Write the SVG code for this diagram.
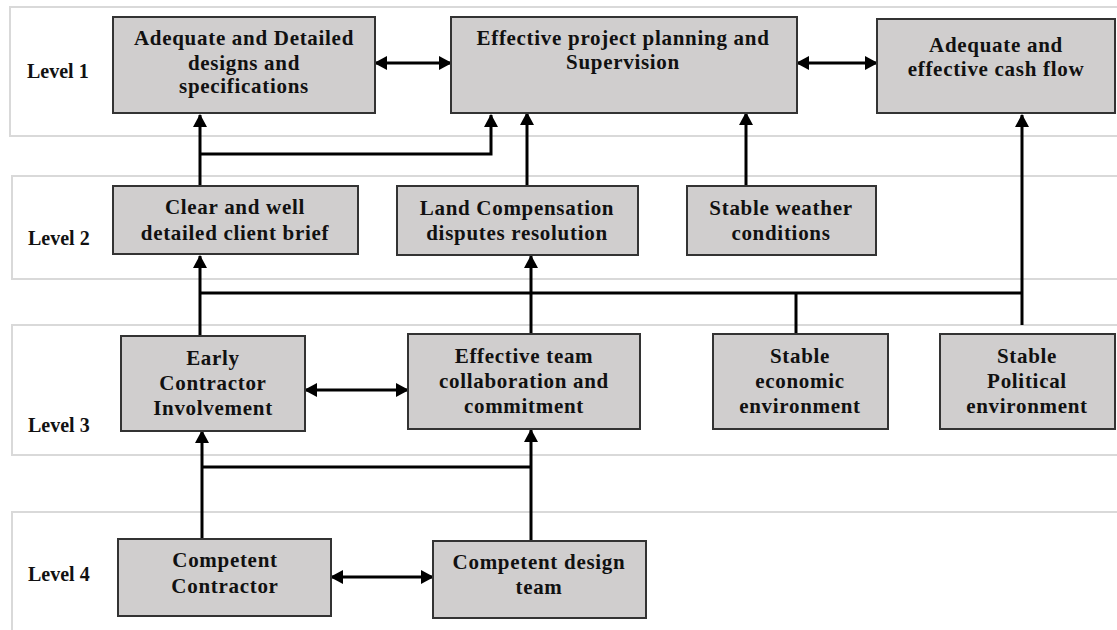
<svg xmlns="http://www.w3.org/2000/svg" width="1117" height="630" viewBox="0 0 1117 630">
<defs>
<style>
.band{fill:none;stroke:#d9d9d9;stroke-width:2}
.box{fill:#d0cece;stroke:#333;stroke-width:2}
.t{font-family:"Liberation Serif","Times New Roman",serif;font-weight:bold;font-size:21px;letter-spacing:0.7px;fill:#111;text-anchor:middle}
.lv{font-family:"Liberation Serif","Times New Roman",serif;font-weight:bold;font-size:20px;fill:#111}
.c{fill:none;stroke:#000;stroke-width:3}
</style>
<marker id="ah" markerUnits="userSpaceOnUse" markerWidth="13" markerHeight="14" refX="12" refY="7" orient="auto-start-reverse">
<path d="M0,0 L13,7 L0,14 z" fill="#000"/>
</marker>
</defs>
<rect width="1117" height="630" fill="#fff"/>
<g id="bands">
<rect class="band" x="10" y="7" width="1120" height="129"/>
<rect class="band" x="12" y="176" width="1120" height="103"/>
<rect class="band" x="12" y="325" width="1120" height="130"/>
<rect class="band" x="12" y="512" width="1120" height="130"/>
<text class="lv" x="27" y="78">Level 1</text>
<text class="lv" x="28" y="245">Level 2</text>
<text class="lv" x="28" y="432">Level 3</text>
<text class="lv" x="28" y="581">Level 4</text>
</g>
<g id="connectors">
<line class="c" x1="375" y1="63" x2="451" y2="63" marker-start="url(#ah)" marker-end="url(#ah)"/>
<line class="c" x1="797" y1="63" x2="877" y2="63" marker-start="url(#ah)" marker-end="url(#ah)"/>
<line class="c" x1="200" y1="186" x2="200" y2="115" marker-end="url(#ah)"/>
<polyline class="c" points="200,154 491,154 491,115" marker-end="url(#ah)"/>
<line class="c" x1="527" y1="185" x2="527" y2="113" marker-end="url(#ah)"/>
<line class="c" x1="746" y1="186" x2="746" y2="113" marker-end="url(#ah)"/>
<line class="c" x1="200" y1="293" x2="1022" y2="293"/>
<line class="c" x1="200" y1="336" x2="200" y2="256" marker-end="url(#ah)"/>
<line class="c" x1="531" y1="334" x2="531" y2="256" marker-end="url(#ah)"/>
<line class="c" x1="796" y1="293" x2="796" y2="334"/>
<line class="c" x1="1022" y1="325" x2="1022" y2="115" marker-end="url(#ah)"/>
<line class="c" x1="305" y1="390" x2="408" y2="390" marker-start="url(#ah)" marker-end="url(#ah)"/>
<line class="c" x1="202" y1="539" x2="202" y2="431" marker-end="url(#ah)"/>
<line class="c" x1="531" y1="541" x2="531" y2="430" marker-end="url(#ah)"/>
<line class="c" x1="202" y1="467" x2="531" y2="467"/>
<line class="c" x1="331" y1="577" x2="433" y2="577" marker-start="url(#ah)" marker-end="url(#ah)"/>
</g>
<g id="n1">
<rect class="box" x="113" y="17" width="262" height="96"/>
<text class="t" x="244" y="45">Adequate and Detailed</text>
<text class="t" x="244" y="70">designs and</text>
<text class="t" x="244" y="93">specifications</text>
</g>
<g id="n2">
<rect class="box" x="451" y="17" width="346" height="96"/>
<text class="t" x="623" y="45">Effective project planning and</text>
<text class="t" x="623" y="69">Supervision</text>
</g>
<g id="n3">
<rect class="box" x="877" y="19" width="238" height="94"/>
<text class="t" x="996" y="52">Adequate and</text>
<text class="t" x="996" y="76">effective cash flow</text>
</g>
<g id="n4">
<rect class="box" x="113" y="186" width="245" height="68"/>
<text class="t" x="235" y="214">Clear and well</text>
<text class="t" x="235" y="240">detailed client brief</text>
</g>
<g id="n5">
<rect class="box" x="397" y="186" width="241" height="69"/>
<text class="t" x="517" y="215">Land Compensation</text>
<text class="t" x="517" y="240">disputes resolution</text>
</g>
<g id="n6">
<rect class="box" x="687" y="186" width="189" height="69"/>
<text class="t" x="781" y="215">Stable weather</text>
<text class="t" x="781" y="240">conditions</text>
</g>
<g id="n7">
<rect class="box" x="121" y="336" width="184" height="95"/>
<text class="t" x="213" y="365">Early</text>
<text class="t" x="213" y="390">Contractor</text>
<text class="t" x="213" y="415">Involvement</text>
</g>
<g id="n8">
<rect class="box" x="408" y="334" width="232" height="95"/>
<text class="t" x="524" y="363">Effective team</text>
<text class="t" x="524" y="388">collaboration and</text>
<text class="t" x="524" y="413">commitment</text>
</g>
<g id="n9">
<rect class="box" x="713" y="334" width="175" height="95"/>
<text class="t" x="800" y="363">Stable</text>
<text class="t" x="800" y="388">economic</text>
<text class="t" x="800" y="413">environment</text>
</g>
<g id="n10">
<rect class="box" x="940" y="334" width="175" height="95"/>
<text class="t" x="1027" y="363">Stable</text>
<text class="t" x="1027" y="388">Political</text>
<text class="t" x="1027" y="413">environment</text>
</g>
<g id="n11">
<rect class="box" x="118" y="539" width="213" height="77"/>
<text class="t" x="225" y="567">Competent</text>
<text class="t" x="225" y="593">Contractor</text>
</g>
<g id="n12">
<rect class="box" x="433" y="541" width="213" height="77"/>
<text class="t" x="539" y="569">Competent design</text>
<text class="t" x="539" y="594">team</text>
</g>
</svg>
